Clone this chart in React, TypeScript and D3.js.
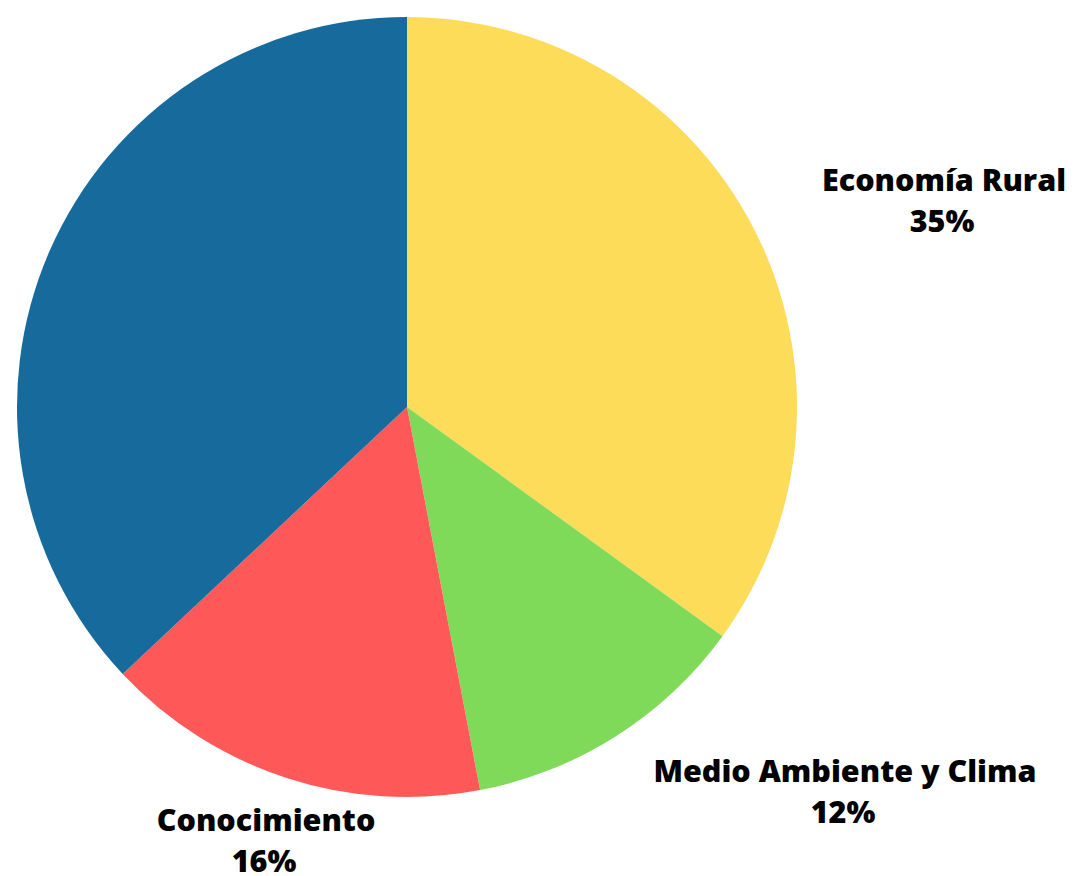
import React, { useEffect, useRef } from 'react';
import * as d3 from 'd3';

// slice data, clockwise from 12 o'clock
const categories = ['Economía Rural', 'Medio Ambiente y Clima', 'Conocimiento', 'Otros'];
const shares = [35, 12, 16, 37];
const colors = ['#fddc5a', '#80da5a', '#fe5858', '#166a9c'];
const showLabel = [true, true, true, false];

// label anchor points (layout only)
const labelPos: [number, number][] = [
  [944, 191],
  [845, 782],
  [266, 831],
  [0, 0],
];

const App: React.FC = () => {
  const svgRef = useRef<SVGSVGElement>(null);

  useEffect(() => {
    if (!svgRef.current) return;
    const width = 1076;
    const height = 876;
    const cx = 407;
    const cy = 407;
    const radius = 390;

    const svg = d3.select(svgRef.current).attr('width', width).attr('height', height);
    svg.selectAll('*').remove();

    const rows = categories.map((c, i) => ({ name: c, value: shares[i], i }));

    const pie = d3
      .pie<{ name: string; value: number; i: number }>()
      .sort(null)
      .value((d) => d.value)(rows);

    const arc = d3
      .arc<d3.PieArcDatum<{ name: string; value: number; i: number }>>()
      .innerRadius(0)
      .outerRadius(radius);

    const g = svg.append('g').attr('transform', `translate(${cx},${cy})`);

    g.selectAll('path')
      .data(pie)
      .enter()
      .append('path')
      .attr('d', arc)
      .attr('fill', (d) => colors[d.data.i]);

    // labels
    const labels = svg
      .selectAll('text.label')
      .data(pie.filter((d) => showLabel[d.data.i]))
      .enter()
      .append('text')
      .attr('class', 'label')
      .attr('text-anchor', 'middle')
      .attr('font-family', '"Open Sans", sans-serif')
      .attr('font-weight', 800)
      .attr('font-size', '30.5px')
      .attr('fill', '#000');

    labels
      .append('tspan')
      .attr('x', (d) => labelPos[d.data.i][0])
      .attr('y', (d) => labelPos[d.data.i][1])
      .text((d) => d.data.name);

    labels
      .append('tspan')
      .attr('x', (d) => labelPos[d.data.i][0] - 2)
      .attr('y', (d) => labelPos[d.data.i][1] + 41)
      .text((d) => `${d.data.value}%`);
  }, []);

  return (
    <svg
      ref={svgRef}
      style={{ position: 'absolute', left: 0, top: 0, background: '#fff' }}
    />
  );
};

export default App;
